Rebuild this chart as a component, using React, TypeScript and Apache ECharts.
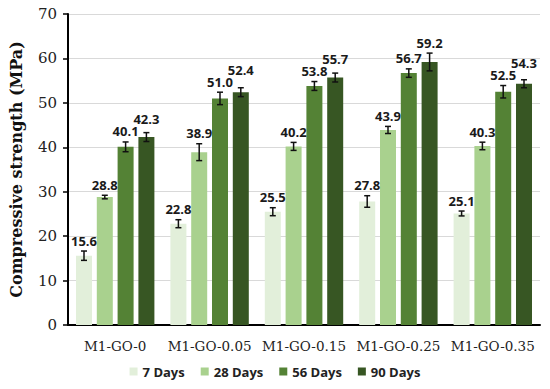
import React, { useEffect, useRef } from "react";
import * as echarts from "echarts";

const categories = ["M1-GO-0", "M1-GO-0.05", "M1-GO-0.15", "M1-GO-0.25", "M1-GO-0.35"];
const seriesNames = ["7 Days", "28 Days", "56 Days", "90 Days"];
const days7 = [15.6, 22.8, 25.5, 27.8, 25.1];
const days28 = [28.8, 38.9, 40.2, 43.9, 40.3];
const days56 = [40.1, 51.0, 53.8, 56.7, 52.5];
const days90 = [42.3, 52.4, 55.7, 59.2, 54.3];
const err7 = [1.05, 0.9, 0.9, 1.3, 0.55];
const err28 = [0.4, 1.9, 0.9, 0.8, 0.85];
const err56 = [1.1, 1.4, 1.0, 0.95, 1.4];
const err90 = [1.0, 1.0, 1.0, 2.0, 0.9];
const colors = ["#e2efda", "#a9d18e", "#548235", "#375623"];

const BAR_W = 16;
const GAP_RATIO = 0.3;
const LABEL_PAD = 4;
const LABEL_SEP = 12;

export default function App() {
  const ref = useRef<HTMLDivElement>(null);
  useEffect(() => {
    if (!ref.current) return;
    const chart = echarts.init(ref.current, undefined, { renderer: "svg" });
    const values = [days7, days28, days56, days90];
    const errs = [err7, err28, err56, err90];
    const n = values.length;
    const gap = BAR_W * GAP_RATIO;
    const total = n * BAR_W + (n - 1) * gap;
    const labelY = (api: any, c: number, i: number): number => {
      let y = 0;
      for (let k = 0; k <= i; k++) {
        const natural = api.coord([c, values[k][c] + errs[k][c]])[1] - LABEL_PAD;
        y = k === 0 ? natural : Math.min(natural, y - LABEL_SEP > natural ? natural : Math.min(natural, y + 100 > natural && natural > y - LABEL_SEP ? y - LABEL_SEP : natural));
      }
      return y;
    };
    const barSeries: any[] = values.map((v, i) => ({
      name: seriesNames[i],
      type: "bar",
      data: v,
      barWidth: BAR_W,
      barGap: GAP_RATIO * 100 + "%",
      itemStyle: { color: colors[i] },
      z: 2,
    }));
    const errSeries: any[] = values.map((v, i) => ({
      name: "err" + i,
      type: "custom",
      z: 5,
      data: v.map((val, j) => [j, val, errs[i][j]]),
      renderItem: (params: any, api: any) => {
        const c = api.value(0);
        const val = api.value(1);
        const e = api.value(2);
        const off = -total / 2 + BAR_W / 2 + i * (BAR_W + gap);
        const hi = api.coord([c, val + e]);
        const lo = api.coord([c, val - e]);
        const x = hi[0] + off;
        const cap = 3;
        const ls = { stroke: "#111", lineWidth: 1.5 };
        return {
          type: "group",
          children: [
            { type: "line", shape: { x1: x, y1: hi[1], x2: x, y2: lo[1] }, style: ls },
            { type: "line", shape: { x1: x - cap, y1: hi[1], x2: x + cap, y2: hi[1] }, style: ls },
            { type: "line", shape: { x1: x - cap, y1: lo[1], x2: x + cap, y2: lo[1] }, style: ls },
            {
              type: "text",
              x: x,
              y: labelY(api, c, i),
              style: {
                text: val.toFixed(1),
                fill: "#1a1a1a",
                font: "bold 13px 'Open Sans'",
                textAlign: "center",
                textVerticalAlign: "bottom",
              },
            },
          ],
        };
      },
    }));
    chart.setOption({
      animation: false,
      grid: { left: 67, right: 10, top: 14, bottom: 64 },
      legend: {
        data: seriesNames,
        bottom: 6,
        left: "center",
        itemWidth: 8,
        itemHeight: 8,
        itemGap: 16,
        icon: "rect",
        textStyle: { fontFamily: "Open Sans", fontWeight: "bold", fontSize: 13, color: "#222" },
      },
      xAxis: {
        type: "category",
        data: categories,
        axisLine: { lineStyle: { color: "#000", width: 2 } },
        axisTick: { show: false },
        axisLabel: { interval: 0, fontFamily: "DejaVu Serif", fontSize: 13.5, color: "#222", margin: 14 },
      },
      yAxis: {
        type: "value",
        min: 0,
        max: 70,
        interval: 10,
        name: "Compressive strength (MPa)",
        nameLocation: "middle",
        nameGap: 44,
        nameTextStyle: { fontFamily: "DejaVu Serif", fontWeight: "bold", fontSize: 16, color: "#111" },
        axisLine: { show: true, lineStyle: { color: "#000", width: 2 } },
        axisTick: { show: true, length: 5, lineStyle: { color: "#000", width: 1.5 } },
        axisLabel: { fontFamily: "DejaVu Serif", fontSize: 15, color: "#222", margin: 11 },
        splitLine: { lineStyle: { color: "#d9d9d9", width: 1 } },
      },
      series: [...barSeries, ...errSeries],
    });
    return () => chart.dispose();
  }, []);
  return <div ref={ref} style={{ width: 550, height: 389, position: "absolute", left: 0, top: 0 }} />;
}
